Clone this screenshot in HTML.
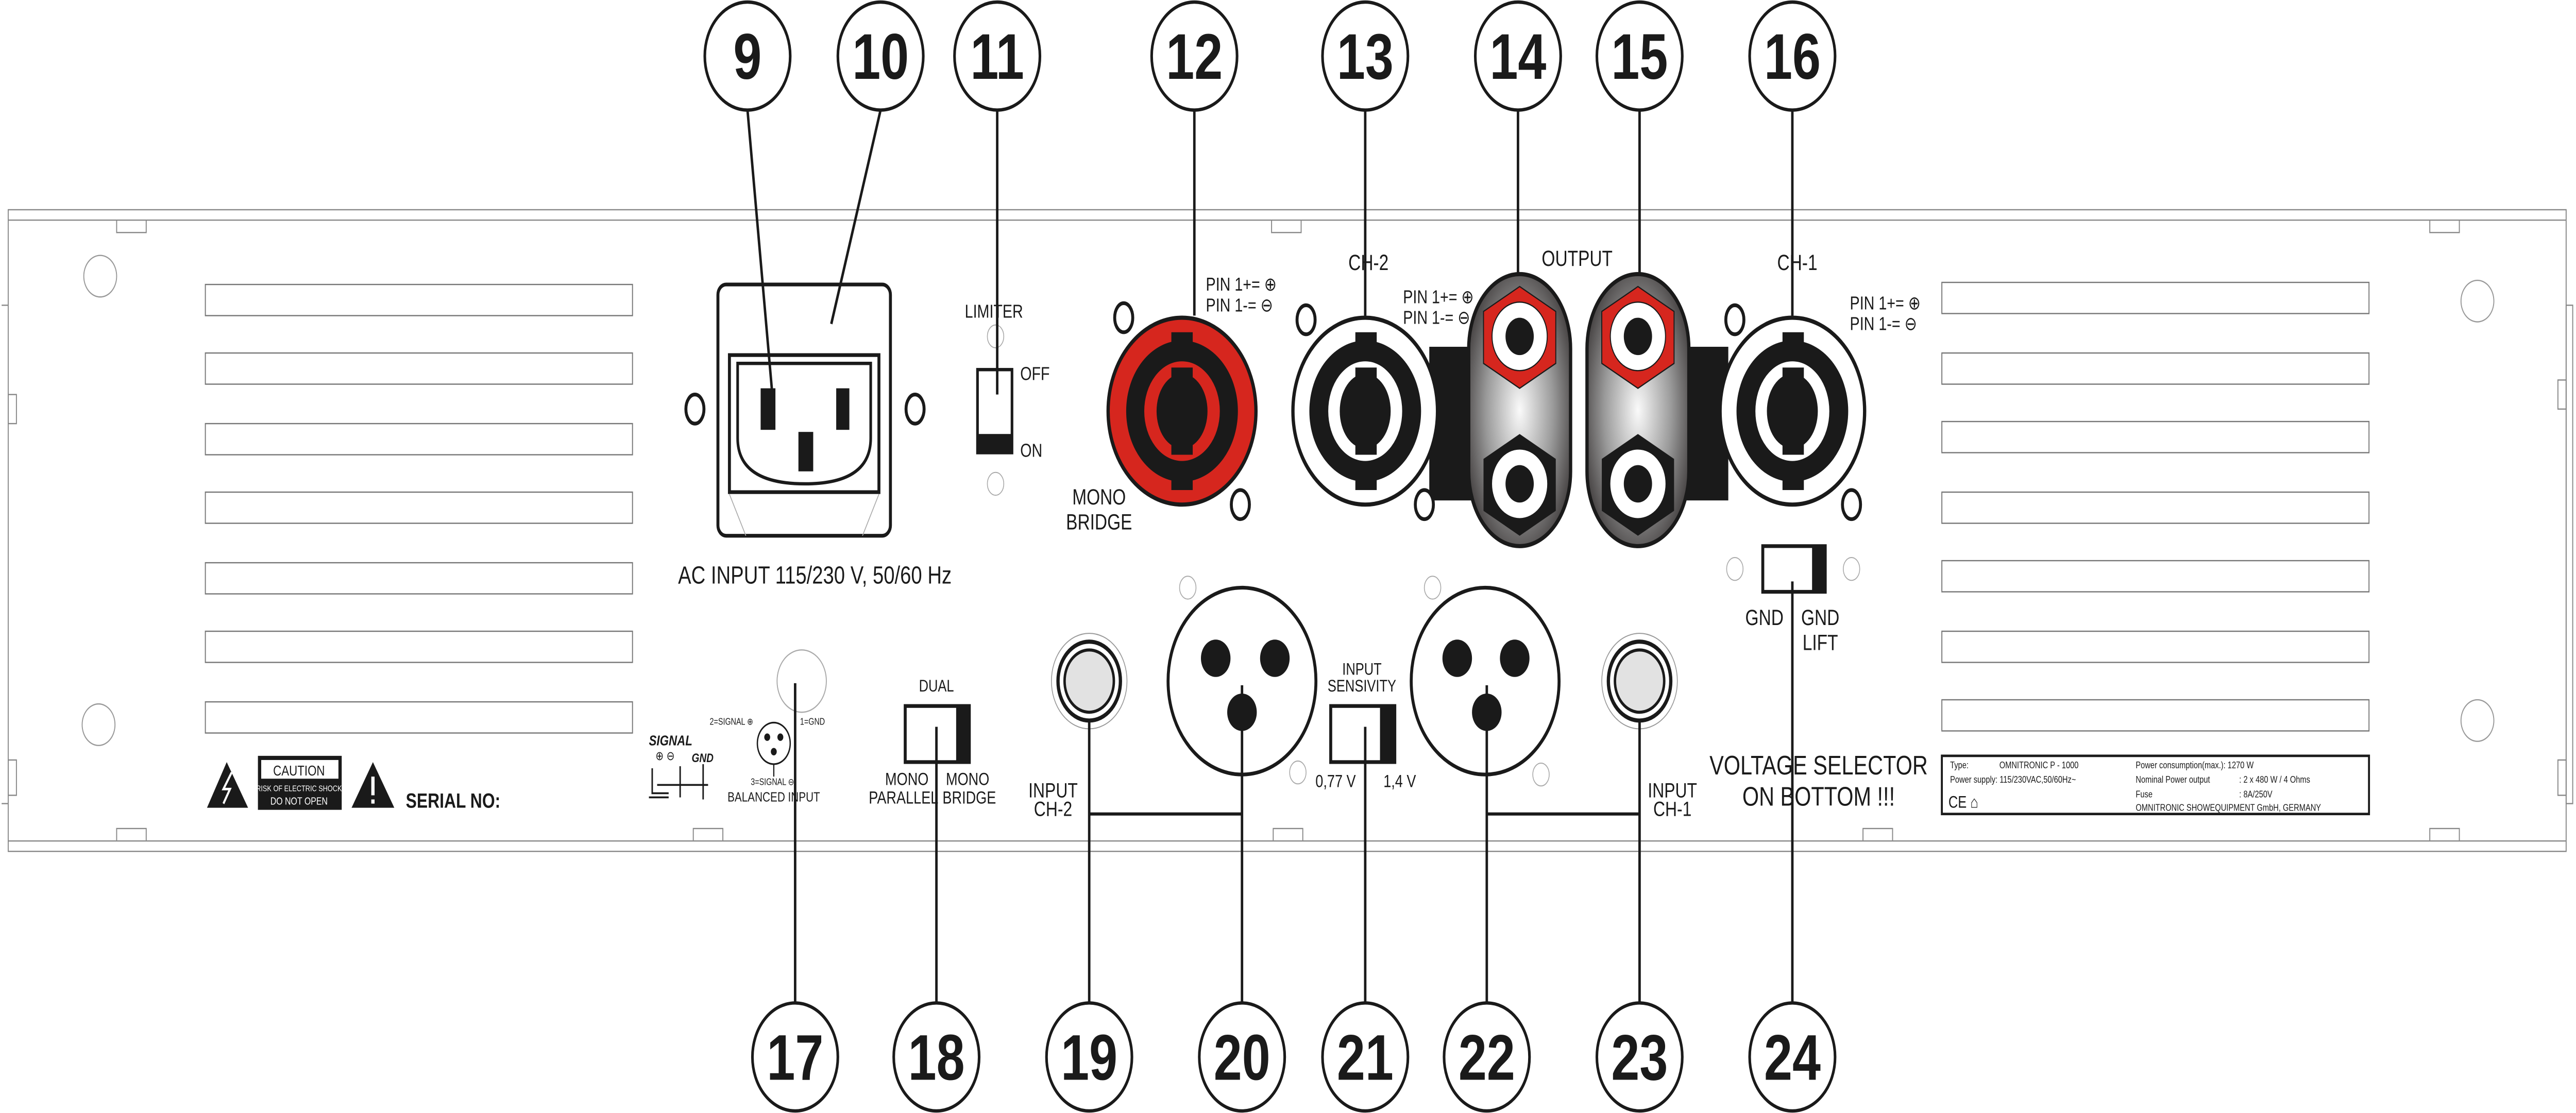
<!DOCTYPE html>
<html><head><meta charset="utf-8"><style>
html,body{margin:0;padding:0;background:#fff;overflow:hidden;width:100vw;height:100vh;}
svg{display:block;position:absolute;left:0;top:0;width:100vw;height:100vh;}
text{font-family:"Liberation Sans Narrow","Liberation Sans",sans-serif;fill:#1a1a1a;}
.n{font-weight:bold;font-size:31px;text-anchor:middle;}
.t{font-size:9px;}
.c{text-anchor:middle;}
</style></head><body>
<svg viewBox="0 0 1568 536" preserveAspectRatio="none" xmlns="http://www.w3.org/2000/svg">
<defs>
<radialGradient id="g" cx="50%" cy="50%" r="60%">
<stop offset="0" stop-color="#fafafa"/><stop offset="0.55" stop-color="#9a9a9a"/><stop offset="1" stop-color="#3a3636"/>
</radialGradient>
<g id="hole"><ellipse rx="10" ry="10" fill="none" stroke="#999" stroke-width="0.6"/></g>
<g id="vent"><rect width="260" height="15" fill="none" stroke="#777" stroke-width="0.6"/></g>
<g id="scr"><ellipse rx="5.5" ry="7" fill="#fff" stroke="#1a1a1a" stroke-width="1.8"/></g>
<g id="sh"><ellipse rx="5" ry="5.5" fill="none" stroke="#aaa" stroke-width="0.5"/></g>
</defs>

<g fill="none" stroke="#888" stroke-width="0.6">
<rect x="5" y="101" width="1557" height="309"/>
<line x1="5" y1="106" x2="1562" y2="106"/>
<line x1="5" y1="405" x2="1562" y2="405"/>
<line x1="1" y1="147" x2="5" y2="147"/><line x1="1" y1="387" x2="5" y2="387"/>
<rect x="5" y="190" width="5" height="14"/><rect x="5" y="366" width="5" height="17"/>
<rect x="1562" y="147" width="4" height="240"/>
<rect x="1557" y="183" width="5" height="14"/><rect x="1557" y="366" width="5" height="17"/>
<path d="M71 106v6h18v-6M71 405v-6h18v6M422 405v-6h18v6M774 106v6h18v-6M775 405v-6h18v6M1134 405v-6h18v6M1479 106v6h18v-6M1479 405v-6h18v6"/>
</g>
<use href="#hole" x="61" y="133"/><use href="#hole" x="60" y="349"/>
<use href="#hole" x="1508" y="145"/><use href="#hole" x="1508" y="347"/>
<use href="#vent" x="125" y="137"/><use href="#vent" x="125" y="170"/><use href="#vent" x="125" y="204"/><use href="#vent" x="125" y="237"/><use href="#vent" x="125" y="271"/><use href="#vent" x="125" y="304"/><use href="#vent" x="125" y="338"/>
<use href="#vent" x="1182" y="136"/><use href="#vent" x="1182" y="170"/><use href="#vent" x="1182" y="203"/><use href="#vent" x="1182" y="237"/><use href="#vent" x="1182" y="270"/><use href="#vent" x="1182" y="304"/><use href="#vent" x="1182" y="337"/>

<rect x="437" y="137" width="105" height="121" rx="5" fill="#fff" stroke="#1a1a1a" stroke-width="1.8"/>
<path d="M444 238L454 258M535 238L525 258" stroke="#aaa" stroke-width="0.5"/>
<rect x="444" y="171" width="91" height="66" fill="none" stroke="#1a1a1a" stroke-width="1.8"/>
<path d="M449 175h81v36q0 22 -40 22q-41 0 -41 -22z" fill="none" stroke="#1a1a1a" stroke-width="1.6"/>
<rect x="463" y="187" width="9" height="20" fill="#1a1a1a"/><rect x="509" y="187" width="8" height="20" fill="#1a1a1a"/><rect x="486" y="208" width="9" height="19" fill="#1a1a1a"/>
<use href="#scr" x="423" y="197"/><use href="#scr" x="557" y="197"/>
<text x="496" y="281" class="c" font-size="12">AC INPUT 115/230 V, 50/60 Hz</text>

<text x="605" y="153" class="c t" font-size="8">LIMITER</text>
<use href="#sh" x="606" y="162"/><use href="#sh" x="606" y="233"/>
<rect x="595" y="178" width="21" height="40" fill="#fff" stroke="#1a1a1a" stroke-width="1.6"/>
<rect x="595" y="209" width="21" height="9" fill="#1a1a1a"/>
<text x="621" y="183" class="t" font-size="8">OFF</text><text x="621" y="220" class="t" font-size="8">ON</text>

<ellipse cx="719.5" cy="198" rx="45" ry="45" fill="#d6261e" stroke="#1a1a1a" stroke-width="2"/>
<ellipse cx="719.5" cy="198" rx="34" ry="34" fill="#1a1a1a"/>
<rect x="713" y="160" width="13" height="76" fill="#1a1a1a"/>
<ellipse cx="719.5" cy="198" rx="23" ry="24" fill="#d6261e"/>
<ellipse cx="719.5" cy="198" rx="15.5" ry="18" fill="#1a1a1a"/>
<rect x="713" y="177" width="13" height="42" fill="#1a1a1a"/>
<use href="#scr" x="684" y="153"/><use href="#scr" x="755" y="243"/>
<text x="669" y="243" class="c" font-size="10.5">MONO</text><text x="669" y="255" class="c" font-size="10.5">BRIDGE</text>
<text x="734" y="140" class="t" font-size="8">PIN 1+= ⊕</text><text x="734" y="150" class="t" font-size="8">PIN 1-= ⊖</text>

<rect x="870" y="167" width="28" height="74" fill="#1a1a1a"/>
<rect x="1024" y="167" width="28" height="74" fill="#1a1a1a"/>

<ellipse cx="831" cy="198" rx="44" ry="45" fill="#fff" stroke="#1a1a1a" stroke-width="2"/>
<ellipse cx="831" cy="198" rx="34" ry="34" fill="#1a1a1a"/>
<rect x="825" y="160" width="13" height="76" fill="#1a1a1a"/>
<ellipse cx="831" cy="198" rx="22.5" ry="24" fill="#fff"/>
<ellipse cx="831" cy="198" rx="15.5" ry="18" fill="#1a1a1a"/>
<rect x="825" y="177" width="13" height="42" fill="#1a1a1a"/>
<use href="#scr" x="795" y="154"/><use href="#scr" x="867" y="243"/>
<text x="833" y="130" class="c" font-size="10.5">CH-2</text>
<text x="854" y="146" class="t" font-size="8">PIN 1+= ⊕</text><text x="854" y="156" class="t" font-size="8">PIN 1-= ⊖</text>

<ellipse cx="1091" cy="198" rx="44" ry="45" fill="#fff" stroke="#1a1a1a" stroke-width="2"/>
<ellipse cx="1091" cy="198" rx="34" ry="34" fill="#1a1a1a"/>
<rect x="1085" y="160" width="13" height="76" fill="#1a1a1a"/>
<ellipse cx="1091" cy="198" rx="22.5" ry="24" fill="#fff"/>
<ellipse cx="1091" cy="198" rx="15.5" ry="18" fill="#1a1a1a"/>
<rect x="1085" y="177" width="13" height="42" fill="#1a1a1a"/>
<use href="#scr" x="1056" y="154"/><use href="#scr" x="1127" y="243"/>
<text x="1094" y="130" class="c" font-size="10.5">CH-1</text>
<text x="1126" y="149" class="t" font-size="8">PIN 1+= ⊕</text><text x="1126" y="159" class="t" font-size="8">PIN 1-= ⊖</text>

<text x="960" y="128" class="c" font-size="10.5">OUTPUT</text>
<g id="bp">
<rect x="894" y="132" width="62" height="131" rx="31" ry="36" fill="url(#g)" stroke="#1a1a1a" stroke-width="2"/>
<polygon points="925,138 947,150 947,175 925,187 903,175 903,150" fill="#d6261e" stroke="#1a1a1a" stroke-width="0.6"/>
<ellipse cx="925" cy="162" rx="16.8" ry="16.5" fill="#fff" stroke="#1a1a1a" stroke-width="0.6"/>
<ellipse cx="925" cy="162" rx="8.6" ry="9" fill="#1a1a1a"/>
<polygon points="925,209 947,221 947,246 925,258 903,246 903,221" fill="#1a1a1a"/>
<ellipse cx="925" cy="233" rx="16.8" ry="16.5" fill="#fff"/>
<ellipse cx="925" cy="233" rx="8.6" ry="9" fill="#1a1a1a"/>
</g>
<use href="#bp" x="72"/>

<use href="#sh" x="1056" y="274"/><use href="#sh" x="1127" y="274"/>
<rect x="1073" y="263" width="38" height="22" fill="#fff" stroke="#1a1a1a" stroke-width="1.8"/>
<rect x="1103" y="263" width="8" height="22" fill="#1a1a1a"/>
<text x="1074" y="301" class="c" font-size="10.5">GND</text>
<text x="1108" y="301" class="c" font-size="10.5">GND</text><text x="1108" y="313" class="c" font-size="10.5">LIFT</text>

<polygon points="138,367 151,389 126,389" fill="#1a1a1a"/>
<path d="M141 372l-5 8h4l-4 7" stroke="#fff" stroke-width="1.2" fill="none"/>
<rect x="157" y="364" width="51" height="26" fill="#1a1a1a"/>
<rect x="159" y="366" width="47" height="9" fill="#fff"/>
<text x="182" y="373.5" class="c" font-size="7">CAUTION</text>
<text x="182" y="381" class="c" font-size="4" style="fill:#fff">RISK OF ELECTRIC SHOCK</text>
<text x="182" y="387.5" class="c" font-size="5" style="fill:#fff">DO NOT OPEN</text>
<polygon points="227,367 240,389 214,389" fill="#1a1a1a"/>
<rect x="226" y="374" width="2" height="9" fill="#fff"/><rect x="226" y="385" width="2" height="2" fill="#fff"/>
<text x="247" y="389" font-size="10" font-weight="bold">SERIAL NO:</text>

<ellipse cx="488" cy="328" rx="15" ry="15" fill="none" stroke="#aaa" stroke-width="0.6"/>
<text x="395" y="359" font-size="7" font-weight="bold" font-style="italic">SIGNAL</text>
<text x="421" y="367" font-size="6" font-weight="bold" font-style="italic">GND</text>
<text x="399" y="366" font-size="6">⊕ ⊖</text>
<path d="M397 370v12h10M400 378h31M414 369v15M428 368v17M395 384h12" stroke="#1a1a1a" stroke-width="0.9" fill="none"/>
<text x="432" y="349" font-size="4.5">2=SIGNAL ⊕</text>
<text x="487" y="349" font-size="4.5">1=GND</text>
<ellipse cx="471" cy="358" rx="10" ry="10" fill="#fff" stroke="#1a1a1a" stroke-width="0.8"/>
<circle cx="467" cy="355" r="1.8" fill="#1a1a1a"/><circle cx="475" cy="355" r="1.8" fill="#1a1a1a"/><circle cx="471" cy="362" r="1.8" fill="#1a1a1a"/>
<path d="M471 368v6" stroke="#1a1a1a" stroke-width="0.7"/>
<text x="457" y="378" font-size="4.5">3=SIGNAL ⊖</text>
<text x="471" y="386" class="c" font-size="6.5">BALANCED INPUT</text>

<text x="570" y="333" class="c" font-size="8">DUAL</text>
<rect x="551" y="340" width="39" height="27" fill="#fff" stroke="#1a1a1a" stroke-width="1.8"/>
<rect x="582" y="340" width="8" height="27" fill="#1a1a1a"/>
<text x="552" y="378" class="c" font-size="8.5">MONO</text><text x="550" y="387" class="c" font-size="8.5">PARALLEL</text>
<text x="589" y="378" class="c" font-size="8.5">MONO</text><text x="590" y="387" class="c" font-size="8.5">BRIDGE</text>

<circle cx="663" cy="328" r="23" fill="none" stroke="#999" stroke-width="0.5"/>
<circle cx="663" cy="328" r="19" fill="#fff" stroke="#1a1a1a" stroke-width="2"/>
<circle cx="663" cy="328" r="15" fill="#e2e2e2" stroke="#1a1a1a" stroke-width="1.5"/>
<text x="641" y="384" class="c" font-size="10">INPUT</text><text x="641" y="393" class="c" font-size="10">CH-2</text>

<use href="#sh" x="723" y="283"/><use href="#sh" x="790" y="372"/>
<circle cx="756" cy="328" r="45" fill="#fff" stroke="#1a1a1a" stroke-width="1.8"/>
<circle cx="740" cy="317" r="9" fill="#1a1a1a"/><circle cx="776" cy="317" r="9" fill="#1a1a1a"/><circle cx="756" cy="343" r="9" fill="#1a1a1a"/>

<text x="829" y="325" class="c" font-size="8">INPUT</text><text x="829" y="333" class="c" font-size="8">SENSIVITY</text>
<rect x="810" y="340" width="39" height="27" fill="#fff" stroke="#1a1a1a" stroke-width="1.8"/>
<rect x="840" y="340" width="9" height="27" fill="#1a1a1a"/>
<text x="813" y="379" class="c" font-size="8.5">0,77 V</text><text x="852" y="379" class="c" font-size="8.5">1,4 V</text>

<use href="#sh" x="872" y="283"/><use href="#sh" x="938" y="373"/>
<circle cx="904" cy="328" r="45" fill="#fff" stroke="#1a1a1a" stroke-width="1.8"/>
<circle cx="887" cy="317" r="9" fill="#1a1a1a"/><circle cx="922" cy="317" r="9" fill="#1a1a1a"/><circle cx="905" cy="343" r="9" fill="#1a1a1a"/>

<circle cx="998" cy="328" r="23" fill="none" stroke="#999" stroke-width="0.5"/>
<circle cx="998" cy="328" r="19" fill="#fff" stroke="#1a1a1a" stroke-width="2"/>
<circle cx="998" cy="328" r="15" fill="#e2e2e2" stroke="#1a1a1a" stroke-width="1.5"/>
<text x="1018" y="384" class="c" font-size="10">INPUT</text><text x="1018" y="393" class="c" font-size="10">CH-1</text>

<text x="1107" y="373" class="c" font-size="13">VOLTAGE SELECTOR</text>
<text x="1107" y="388" class="c" font-size="13">ON BOTTOM !!!</text>

<rect x="1182" y="364" width="260" height="28" fill="#fff" stroke="#1a1a1a" stroke-width="1.2"/>
<g font-size="4.6">
<text x="1187" y="370">Type:</text><text x="1217" y="370">OMNITRONIC P - 1000</text>
<text x="1187" y="377">Power supply: 115/230VAC,50/60Hz~</text>
<text x="1300" y="370">Power consumption(max.): 1270 W</text>
<text x="1300" y="377">Nominal Power output</text><text x="1363" y="377">: 2 x 480 W / 4 Ohms</text>
<text x="1300" y="384">Fuse</text><text x="1363" y="384">: 8A/250V</text>
<text x="1300" y="390.5">OMNITRONIC SHOWEQUIPMENT GmbH, GERMANY</text>
</g>
<text x="1186" y="389" font-size="8">CE ⌂</text>

<g stroke="#1a1a1a" stroke-width="1.5" fill="none">
<path d="M455 53L471 198M536 53L506 156M607 53V190M727 53V152M831 53V152M924 53V132M998 53V132M1091 53V152"/>
<path d="M484 483V329M570 483V350M663 483V347M756 483V330M663 392H756M831 483V350M905 483V330M998 483V347M905 392H998M1091 483V280"/>
</g>

<g fill="#fff" stroke="#1a1a1a" stroke-width="1.6">
<circle cx="455" cy="27" r="26"/><circle cx="536" cy="27" r="26"/><circle cx="607" cy="27" r="26"/><circle cx="727" cy="27" r="26"/>
<circle cx="831" cy="27" r="26"/><circle cx="924" cy="27" r="26"/><circle cx="998" cy="27" r="26"/><circle cx="1091" cy="27" r="26"/>
<circle cx="484" cy="509" r="26"/><circle cx="570" cy="509" r="26"/><circle cx="663" cy="509" r="26"/><circle cx="756" cy="509" r="26"/>
<circle cx="831" cy="509" r="26"/><circle cx="905" cy="509" r="26"/><circle cx="998" cy="509" r="26"/><circle cx="1091" cy="509" r="26"/>
</g>
<g>
<text class="n" x="455" y="38">9</text><text class="n" x="536" y="38">10</text><text class="n" x="607" y="38">11</text><text class="n" x="727" y="38">12</text>
<text class="n" x="831" y="38">13</text><text class="n" x="924" y="38">14</text><text class="n" x="998" y="38">15</text><text class="n" x="1091" y="38">16</text>
<text class="n" x="484" y="520">17</text><text class="n" x="570" y="520">18</text><text class="n" x="663" y="520">19</text><text class="n" x="756" y="520">20</text>
<text class="n" x="831" y="520">21</text><text class="n" x="905" y="520">22</text><text class="n" x="998" y="520">23</text><text class="n" x="1091" y="520">24</text>
</g>
</svg>
</body></html>
